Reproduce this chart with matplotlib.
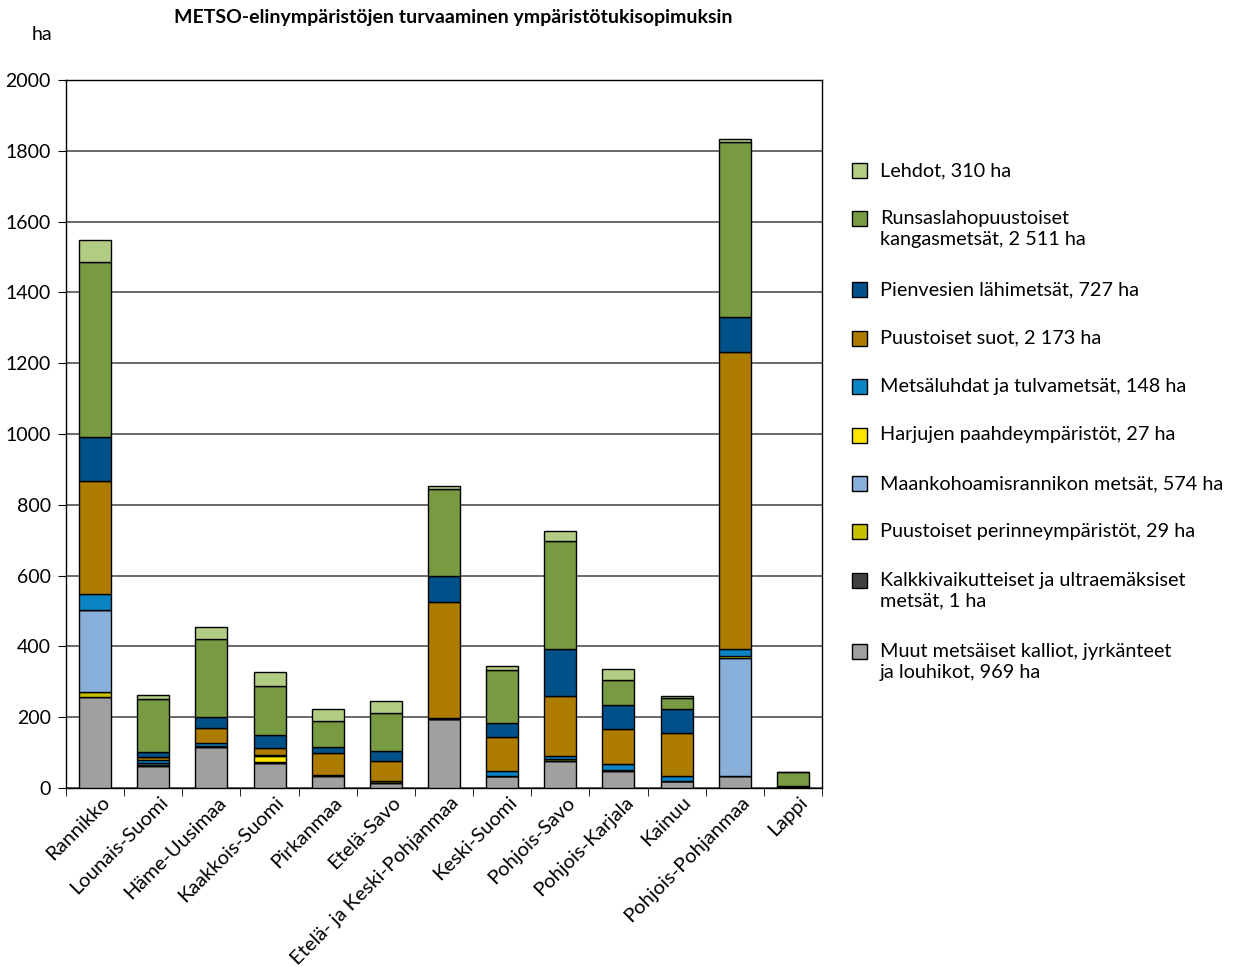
import matplotlib
matplotlib.use("Agg")
import matplotlib.pyplot as plt
from matplotlib.patches import Rectangle
import numpy as np

plt.rcParams['font.family'] = ['Lato', 'DejaVu Sans']

# Alueet
alueet = ["Rannikko", "Lounais-Suomi", "Häme-Uusimaa", "Kaakkois-Suomi", "Pirkanmaa",
          "Etelä-Savo", "Etelä- ja Keski-Pohjanmaa", "Keski-Suomi", "Pohjois-Savo",
          "Pohjois-Karjala", "Kainuu", "Pohjois-Pohjanmaa", "Lappi"]

# Elinympäristöt (ha), pinottu alhaalta ylös
muut = [256, 62, 116, 72, 33, 15, 195, 33, 76, 48, 20, 34, 4]
kalkki = [0, 0, 0, 0, 0, 0, 0, 0, 0, 0, 0, 0, 1]
perinne = [14, 2, 2, 2, 4, 4, 0, 2, 6, 2, 0, 0, 0]
maankoho = [232, 6, 2, 0, 0, 0, 4, 0, 0, 0, 0, 332, 0]
harjut = [0, 0, 0, 15, 0, 0, 0, 0, 0, 0, 0, 7, 0]
luhdat = [47, 8, 8, 5, 0, 0, 0, 12, 7, 18, 14, 19, 0]
suot = [317, 10, 41, 20, 61, 58, 326, 98, 171, 98, 121, 841, 0]
pienvedet = [126, 14, 31, 37, 19, 28, 73, 40, 134, 69, 68, 97, 0]
runsaslaho = [494, 150, 222, 138, 71, 106, 246, 147, 303, 69, 30, 494, 41]
lehdot = [62, 12, 34, 39, 36, 34, 9, 14, 28, 33, 8, 10, 0]

sarjat = [muut, kalkki, perinne, maankoho, harjut, luhdat, suot, pienvedet, runsaslaho, lehdot]
nimet = ["Muut metsäiset kalliot, jyrkänteet\nja louhikot, 969 ha",
         "Kalkkivaikutteiset ja ultraemäksiset\nmetsät, 1 ha",
         "Puustoiset perinneympäristöt, 29 ha",
         "Maankohoamisrannikon metsät, 574 ha",
         "Harjujen paahdeympäristöt, 27 ha",
         "Metsäluhdat ja tulvametsät, 148 ha",
         "Puustoiset suot, 2 173 ha",
         "Pienvesien lähimetsät, 727 ha",
         "Runsaslahopuustoiset\nkangasmetsät, 2 511 ha",
         "Lehdot, 310 ha"]
varit = ["#A0A0A0", "#404040", "#C8BE00", "#88B0DA", "#FFE600",
         "#0A84C4", "#AD7B00", "#00508A", "#779A42", "#B2CC84"]

W, H = 1238, 967
fig = plt.figure(figsize=(W / 100, H / 100), dpi=100)
ax = fig.add_axes([66 / W, 1 - 788 / H, 756 / W, 708 / H])

x = np.arange(len(alueet))
pohja = np.zeros(len(alueet))
for arvot, vari in zip(sarjat, varit):
    arvot = np.array(arvot, dtype=float)
    ax.bar(x, arvot, 0.55, bottom=pohja, color=vari, edgecolor="black", linewidth=1, zorder=3)
    pohja += arvot

ax.set_xlim(-0.5, len(alueet) - 0.5)
ax.set_ylim(0, 2000)
ax.set_yticks(np.arange(0, 2001, 200))
ax.yaxis.grid(True, color="#505050", linewidth=1.2, zorder=0)
ax.tick_params(axis="y", direction="out", length=6, labelsize=14, color="black", pad=5)
ax.set_xticks(x + 0.1)
ax.set_xticklabels(alueet, rotation=45, ha="right", rotation_mode="anchor", fontsize=14.5)
ax.set_xticks(np.arange(-0.5, len(alueet), 1), minor=True)
ax.tick_params(axis="x", which="major", length=0, pad=4)
ax.tick_params(axis="x", which="minor", direction="out", length=6, color="black")
for s in ax.spines.values():
    s.set_color("black")
    s.set_linewidth(1)

fig.text(453 / W, 1 - 17 / H, "METSO-elinympäristöjen turvaaminen ympäristötukisopimuksin",
         ha="center", va="center", fontsize=14, fontweight="bold")
fig.text(42 / W, 1 - 35 / H, "ha", ha="center", va="center", fontsize=14)

# selite oikealla
yk = 170
for nimi, vari in zip(nimet[::-1], varit[::-1]):
    rivit = nimi.split("\n")
    fig.patches.append(Rectangle((852 / W, 1 - (yk + 8) / H), 15 / W, 15 / H,
                                 transform=fig.transFigure, facecolor=vari,
                                 edgecolor="black", linewidth=1))
    for j, rivi in enumerate(rivit):
        fig.text(880 / W, 1 - (yk + 6 + 21 * j) / H, rivi, ha="left", va="baseline", fontsize=14.3)
    yk += 48.4 + 22.5 * (len(rivit) - 1)

fig.savefig("out.png", dpi=100)
